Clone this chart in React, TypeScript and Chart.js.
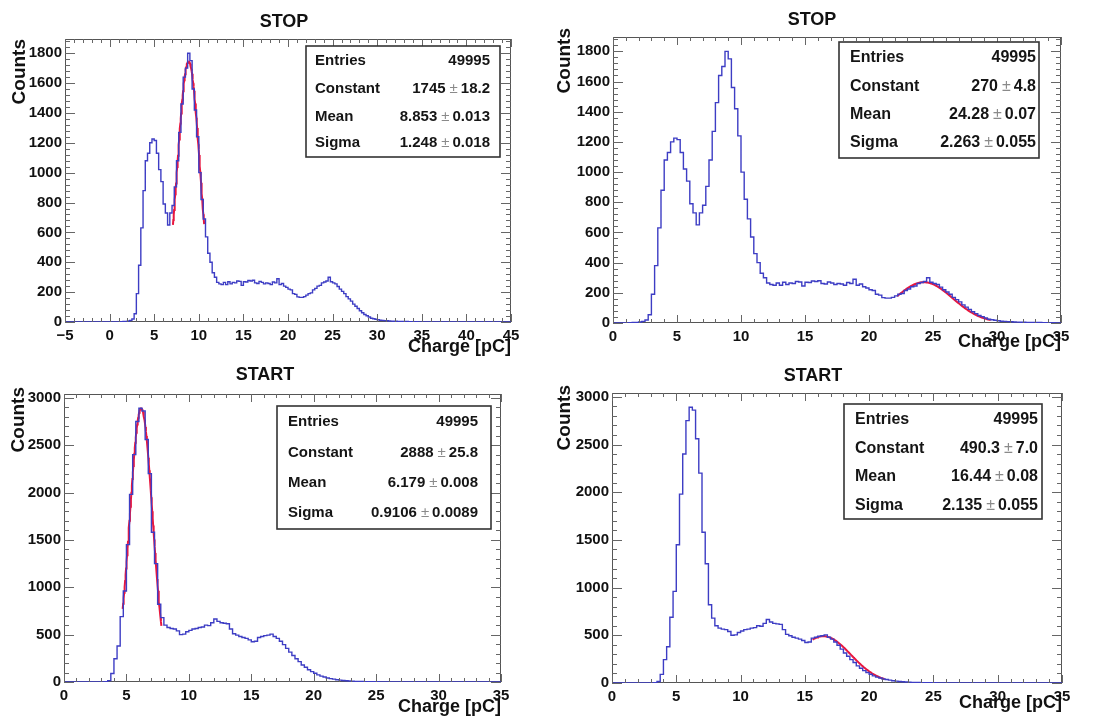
import React, { useEffect, useRef } from "react";
import { Chart, registerables } from "chart.js";

Chart.register(...registerables);

// ---------------- DATA ----------------
const BIN_WIDTH = 0.25; // pC

// STOP histogram: bins start at -5 pC
const STOP_FIRST_EDGE = -5;
const STOP_COUNTS = [
  // -5 .. -0.25
  0, 0, 0, 0, 0, 0, 0, 0, 0, 0, 0, 0, 0, 0, 0, 0, 0, 0, 0, 0,
  // 0 .. 2.75
  0, 0, 0, 1, 1, 2, 3, 4, 7, 11, 20, 55,
  // 3 .. 5.75
  190, 380, 630, 880, 1080, 1130, 1200, 1225, 1215, 1130, 1020, 940,
  // 6 .. 8.75
  790, 730, 650, 730, 780, 905, 1080, 1270, 1460, 1640, 1700, 1800,
  // 9 .. 11.75
  1750, 1560, 1420, 1240, 1000, 820, 690, 570, 460, 400, 330, 300,
  // 12 .. 14.75
  265, 255, 250, 265, 250, 270, 255, 265, 262, 275, 272, 245,
  // 15 .. 17.75
  270, 268, 278, 275, 280, 262, 258, 272, 265, 255, 262, 258,
  // 18 .. 20.75
  250, 268, 262, 290, 250, 258, 240, 232, 220, 215, 190, 185,
  // 21 .. 23.75
  168, 165, 165, 170, 180, 190, 195, 215, 225, 240, 245, 262,
  // 24 .. 26.75
  268, 275, 300, 270, 262, 255, 238, 220, 205, 190, 170, 155,
  // 27 .. 29.75
  140, 120, 105, 90, 75, 62, 50, 42, 33, 25, 22, 18,
  // 30 .. 32.75
  15, 12, 11, 9, 8, 7, 6, 5, 5, 4, 4, 3,
  // 33 .. 35.75
  3, 3, 2, 2, 2, 2, 1, 1, 1, 1, 1, 1,
  // 36 .. 36.75
  1, 0, 1, 0,
  // 37 .. 44.75
  0, 0, 0, 0, 0, 0, 0, 0, 0, 0, 0, 0, 0, 0, 0, 0,
  0, 0, 0, 0, 0, 0, 0, 0, 0, 0, 0, 0, 0, 0, 0, 0,
];

// START histogram: bins start at 0 pC
const START_FIRST_EDGE = 0;
const START_COUNTS = [
  // 0 .. 3.0
  0, 0, 0, 0, 0, 0, 0, 0, 0, 0, 0, 0, 0,
  // 3.25 .. 5.75
  2, 15, 90, 245, 380, 690, 960, 1450, 1980, 2400, 2750,
  // 6 .. 8.75
  2890, 2860, 2560, 2200, 1580, 1250, 820, 680, 600, 575, 565, 560,
  // 9 .. 11.75
  540, 500, 505, 530, 545, 560, 565, 575, 580, 600, 595, 625,
  // 12 .. 14.75
  665, 640, 625, 620, 615, 560, 510, 495, 480, 470, 460, 445,
  // 15 .. 17.75
  425, 430, 470, 480, 490, 495, 505, 480, 460, 430, 395, 355,
  // 18 .. 20.75
  315, 280, 245, 215, 180, 155, 130, 110, 92, 75, 62, 52,
  // 21 .. 23.75
  42, 36, 30, 24, 20, 16, 13, 11, 9, 7, 6, 5,
  // 24 .. 25.75
  4, 3, 3, 2, 2, 1, 1, 1,
  // 26 .. 34.75
  0, 0, 0, 0, 0, 0, 0, 0, 0, 0, 0, 0, 0, 0, 0, 0, 0, 0,
  0, 0, 0, 0, 0, 0, 0, 0, 0, 0, 0, 0, 0, 0, 0, 0, 0, 0,
];

// Axis tick labels
const STOP_Y_TICKS = [0, 200, 400, 600, 800, 1000, 1200, 1400, 1600, 1800];
const START_Y_TICKS = [0, 500, 1000, 1500, 2000, 2500, 3000];
const X_TICKS_WIDE = [-5, 0, 5, 10, 15, 20, 25, 30, 35, 40, 45];
const X_TICKS = [0, 5, 10, 15, 20, 25, 30, 35];

const ENTRIES = "49995";
const STAT_LABELS = ["Entries", "Constant", "Mean", "Sigma"];

// Gaussian fit results [constant, mean, sigma] with their printed forms and fit ranges
const FIT_STOP_1_PARAMS = [1745, 8.853, 1.248];
const FIT_STOP_1_TEXT = ["1745", "8.853", "1.248"];
const FIT_STOP_1_ERR = ["18.2", "0.013", "0.018"];
const FIT_STOP_1_RANGE = [7.1, 10.6];

const FIT_STOP_2_PARAMS = [270, 24.28, 2.263];
const FIT_STOP_2_TEXT = ["270", "24.28", "2.263"];
const FIT_STOP_2_ERR = ["4.8", "0.07", "0.055"];
const FIT_STOP_2_RANGE = [22.2, 29.5];

const FIT_START_1_PARAMS = [2888, 6.179, 0.9106];
const FIT_START_1_TEXT = ["2888", "6.179", "0.9106"];
const FIT_START_1_ERR = ["25.8", "0.008", "0.0089"];
const FIT_START_1_RANGE = [4.7, 7.8];

const FIT_START_2_PARAMS = [490.3, 16.44, 2.135];
const FIT_START_2_TEXT = ["490.3", "16.44", "2.135"];
const FIT_START_2_ERR = ["7.0", "0.08", "0.055"];
const FIT_START_2_RANGE = [15.6, 21.2];

const X_TITLE = "Charge [pC]";
const Y_TITLE = "Counts";

// ---------------- STYLE / LAYOUT ----------------
const FONT = '"Liberation Sans", Arial, Helvetica, sans-serif';
const HIST_COLOR = "#3d3dc4";
const FIT_COLOR = "#e8173f";

type Panel = {
  title: string;
  counts: number[];
  firstEdge: number;
  xMin: number;
  xMax: number;
  xTicks: number[];
  yMax: number;
  yTicks: number[];
  fitParams: number[];
  fitText: string[];
  fitErr: string[];
  fitRange: number[];
  canvas: { left: number; top: number; w: number; h: number };
  area: { l: number; t: number; r: number; b: number };
  titlePos: { x: number; y: number };
  countsPos: { x: number; top: number };
  xTitleBase: number;
  box: { x: number; y: number; w: number; h: number };
  rows: number[];
  textL: number;
  textR: number;
  statFont: number;
};

const PANELS: Panel[] = [
  {
    title: "STOP", counts: STOP_COUNTS, firstEdge: STOP_FIRST_EDGE,
    xMin: -5, xMax: 45, xTicks: X_TICKS_WIDE, yMax: 1895, yTicks: STOP_Y_TICKS,
    fitParams: FIT_STOP_1_PARAMS, fitText: FIT_STOP_1_TEXT, fitErr: FIT_STOP_1_ERR, fitRange: FIT_STOP_1_RANGE,
    canvas: { left: 0, top: 0, w: 550, h: 362 },
    area: { l: 65, t: 39, r: 511, b: 322 },
    titlePos: { x: 284, y: 22 }, countsPos: { x: 20, top: 39 }, xTitleBase: 352,
    box: { x: 306, y: 46, w: 194, h: 111 }, rows: [61, 89, 117, 143], textL: 315, textR: 490, statFont: 15,
  },
  {
    title: "STOP", counts: STOP_COUNTS, firstEdge: STOP_FIRST_EDGE,
    xMin: 0, xMax: 35, xTicks: X_TICKS, yMax: 1895, yTicks: STOP_Y_TICKS,
    fitParams: FIT_STOP_2_PARAMS, fitText: FIT_STOP_2_TEXT, fitErr: FIT_STOP_2_ERR, fitRange: FIT_STOP_2_RANGE,
    canvas: { left: 550, top: 0, w: 550, h: 362 },
    area: { l: 63, t: 37, r: 511, b: 323 },
    titlePos: { x: 262, y: 20 }, countsPos: { x: 15, top: 28 }, xTitleBase: 347,
    box: { x: 289, y: 42, w: 200, h: 116 }, rows: [58, 87, 115, 143], textL: 300, textR: 486, statFont: 16,
  },
  {
    title: "START", counts: START_COUNTS, firstEdge: START_FIRST_EDGE,
    xMin: 0, xMax: 35, xTicks: X_TICKS, yMax: 3040, yTicks: START_Y_TICKS,
    fitParams: FIT_START_1_PARAMS, fitText: FIT_START_1_TEXT, fitErr: FIT_START_1_ERR, fitRange: FIT_START_1_RANGE,
    canvas: { left: 0, top: 362, w: 550, h: 362 },
    area: { l: 64, t: 32, r: 501, b: 320 },
    titlePos: { x: 265, y: 13 }, countsPos: { x: 19, top: 25 }, xTitleBase: 350,
    box: { x: 277, y: 44, w: 214, h: 123 }, rows: [60, 91, 121, 151], textL: 288, textR: 478, statFont: 15,
  },
  {
    title: "START", counts: START_COUNTS, firstEdge: START_FIRST_EDGE,
    xMin: 0, xMax: 35, xTicks: X_TICKS, yMax: 3040, yTicks: START_Y_TICKS,
    fitParams: FIT_START_2_PARAMS, fitText: FIT_START_2_TEXT, fitErr: FIT_START_2_ERR, fitRange: FIT_START_2_RANGE,
    canvas: { left: 550, top: 362, w: 550, h: 362 },
    area: { l: 62, t: 31, r: 512, b: 321 },
    titlePos: { x: 263, y: 14 }, countsPos: { x: 15, top: 23 }, xTitleBase: 346,
    box: { x: 294, y: 42, w: 198, h: 115 }, rows: [58, 87, 115, 144], textL: 305, textR: 488, statFont: 16,
  },
];

function histPoints(first: number, counts: number[]) {
  const pts = counts.map((c, i) => ({ x: first + i * BIN_WIDTH, y: c }));
  pts.push({ x: first + counts.length * BIN_WIDTH, y: counts[counts.length - 1] });
  return pts;
}

function fitPoints(params: number[], range: number[]) {
  const [c, m, s] = params;
  const n = 80;
  const pts = [];
  for (let i = 0; i <= n; i++) {
    const x = range[0] + ((range[1] - range[0]) * i) / n;
    pts.push({ x, y: c * Math.exp(-0.5 * ((x - m) / s) ** 2) });
  }
  return pts;
}

function makeDecor(p: Panel) {
  return {
    id: "rootDecor",
    beforeDatasetsDraw(chart: any) {
      const { ctx, chartArea: a } = chart;
      ctx.save();
      ctx.strokeStyle = "#555";
      ctx.lineWidth = 1;
      ctx.strokeRect(a.left + 0.5, a.top + 0.5, a.right - a.left - 1, a.bottom - a.top - 1);
      ctx.restore();
    },
    afterDatasetsDraw(chart: any) {
      const { ctx, chartArea: a, scales } = chart;
      const xs = scales.x;
      const ys = scales.y;
      ctx.save();
      ctx.strokeStyle = "#666";
      ctx.lineWidth = 1;
      ctx.beginPath();
      const xStep = p.xTicks[1] - p.xTicks[0];
      const xMinor = xStep / 5;
      for (let v = p.xMin; v <= p.xMax + 1e-9; v += xMinor) {
        const k = Math.round((v - p.xMin) / xMinor);
        const major = k % 5 === 0;
        const len = major ? 8 : 4;
        const px = Math.round(xs.getPixelForValue(v)) + 0.5;
        ctx.moveTo(px, a.bottom);
        ctx.lineTo(px, a.bottom - len);
        ctx.moveTo(px, a.top);
        ctx.lineTo(px, a.top + len);
      }
      const yStep = p.yTicks[1] - p.yTicks[0];
      const yMinor = yStep / 5;
      for (let v = 0; v <= p.yMax + 1e-9; v += yMinor) {
        const k = Math.round(v / yMinor);
        const major = k % 5 === 0;
        const len = major ? 10 : 5;
        const py = Math.round(ys.getPixelForValue(v)) + 0.5;
        ctx.moveTo(a.left, py);
        ctx.lineTo(a.left + len, py);
        ctx.moveTo(a.right, py);
        ctx.lineTo(a.right - len, py);
      }
      ctx.stroke();
      ctx.restore();
    },
    afterDraw(chart: any) {
      const { ctx } = chart;
      ctx.save();
      ctx.fillStyle = "#111";
      ctx.font = `bold 18px ${FONT}`;
      ctx.textAlign = "center";
      ctx.textBaseline = "middle";
      ctx.fillText(p.title, p.titlePos.x, p.titlePos.y);
      ctx.textAlign = "right";
      ctx.textBaseline = "alphabetic";
      ctx.fillText(X_TITLE, p.area.r, p.xTitleBase);
      ctx.save();
      ctx.translate(p.countsPos.x, p.countsPos.top);
      ctx.rotate(-Math.PI / 2);
      ctx.textAlign = "right";
      ctx.textBaseline = "middle";
      ctx.font = `bold 19px ${FONT}`;
      ctx.fillText(Y_TITLE, 0, 0);
      ctx.restore();
      const b = p.box;
      ctx.fillStyle = "#fff";
      ctx.fillRect(b.x, b.y, b.w, b.h);
      ctx.strokeStyle = "#333";
      ctx.lineWidth = 1.6;
      ctx.strokeRect(b.x, b.y, b.w, b.h);
      ctx.textBaseline = "middle";
      const bold = `bold ${p.statFont}px ${FONT}`;
      const pmFont = `${p.statFont}px ${FONT}`;
      for (let i = 0; i < STAT_LABELS.length; i++) {
        const y = p.rows[i];
        ctx.font = bold;
        ctx.fillStyle = "#151515";
        ctx.textAlign = "left";
        ctx.fillText(STAT_LABELS[i], p.textL, y);
        ctx.textAlign = "right";
        if (i === 0) {
          ctx.fillText(ENTRIES, p.textR, y);
        } else {
          const err = p.fitErr[i - 1];
          const val = p.fitText[i - 1];
          ctx.fillText(err, p.textR, y);
          const ew = ctx.measureText(err).width;
          ctx.font = pmFont;
          ctx.fillStyle = "#8a8a8a";
          const pmX = p.textR - ew - 3;
          ctx.fillText("\u00b1", pmX, y);
          const pw = ctx.measureText("\u00b1").width;
          ctx.font = bold;
          ctx.fillStyle = "#151515";
          ctx.fillText(val, pmX - pw - 4, y);
        }
      }
      ctx.restore();
    },
  };
}

function tickFmt(v: any) {
  return String(v).replace("-", "\u2212");
}

function PanelChart({ p }: { p: Panel }) {
  const ref = useRef<HTMLCanvasElement | null>(null);
  useEffect(() => {
    if (!ref.current) return;
    const tickFont = { family: FONT, size: 15, weight: "bold" as const };
    const chart = new Chart(ref.current, {
      type: "line",
      data: {
        datasets: [
          {
            data: histPoints(p.firstEdge, p.counts),
            borderColor: HIST_COLOR,
            borderWidth: 1.4,
            pointRadius: 0,
            stepped: true,
            fill: false,
            tension: 0,
          },
          {
            data: fitPoints(p.fitParams, p.fitRange),
            borderColor: FIT_COLOR,
            borderWidth: 2,
            pointRadius: 0,
            fill: false,
            tension: 0,
          },
        ],
      },
      options: {
        responsive: false,
        animation: false,
        devicePixelRatio: 1,
        layout: {
          padding: { left: 0, top: p.area.t, right: p.canvas.w - p.area.r, bottom: 0 },
        },
        plugins: { legend: { display: false }, tooltip: { enabled: false }, title: { display: false } },
        scales: {
          x: {
            type: "linear",
            min: p.xMin,
            max: p.xMax,
            grid: { display: false, drawTicks: false },
            border: { display: false },
            ticks: {
              autoSkip: false,
              maxRotation: 0,
              padding: 5,
              color: "#111",
              font: tickFont,
              callback: tickFmt,
            },
            afterBuildTicks: (s: any) => {
              s.ticks = p.xTicks.map((v) => ({ value: v }));
            },
            afterFit: (s: any) => {
              s.height = p.canvas.h - p.area.b;
              s.paddingLeft = 0;
              s.paddingRight = 0;
            },
          },
          y: {
            type: "linear",
            min: 0,
            max: p.yMax,
            grid: { display: false, drawTicks: false },
            border: { display: false },
            ticks: {
              autoSkip: false,
              padding: 3,
              color: "#111",
              font: tickFont,
              callback: tickFmt,
            },
            afterBuildTicks: (s: any) => {
              s.ticks = p.yTicks.map((v) => ({ value: v }));
            },
            afterFit: (s: any) => {
              s.width = p.area.l;
              s.paddingTop = 0;
              s.paddingBottom = 0;
            },
          },
        },
      } as any,
      plugins: [makeDecor(p)],
    });
    return () => chart.destroy();
  }, [p]);
  return (
    <canvas
      ref={ref}
      width={p.canvas.w}
      height={p.canvas.h}
      style={{ position: "absolute", left: p.canvas.left, top: p.canvas.top, width: p.canvas.w, height: p.canvas.h }}
    />
  );
}

export default function App() {
  return (
    <div style={{ position: "fixed", left: 0, top: 0, width: 1100, height: 724, background: "#fff", overflow: "hidden" }}>
      {PANELS.map((p, i) => (
        <PanelChart key={i} p={p} />
      ))}
    </div>
  );
}
